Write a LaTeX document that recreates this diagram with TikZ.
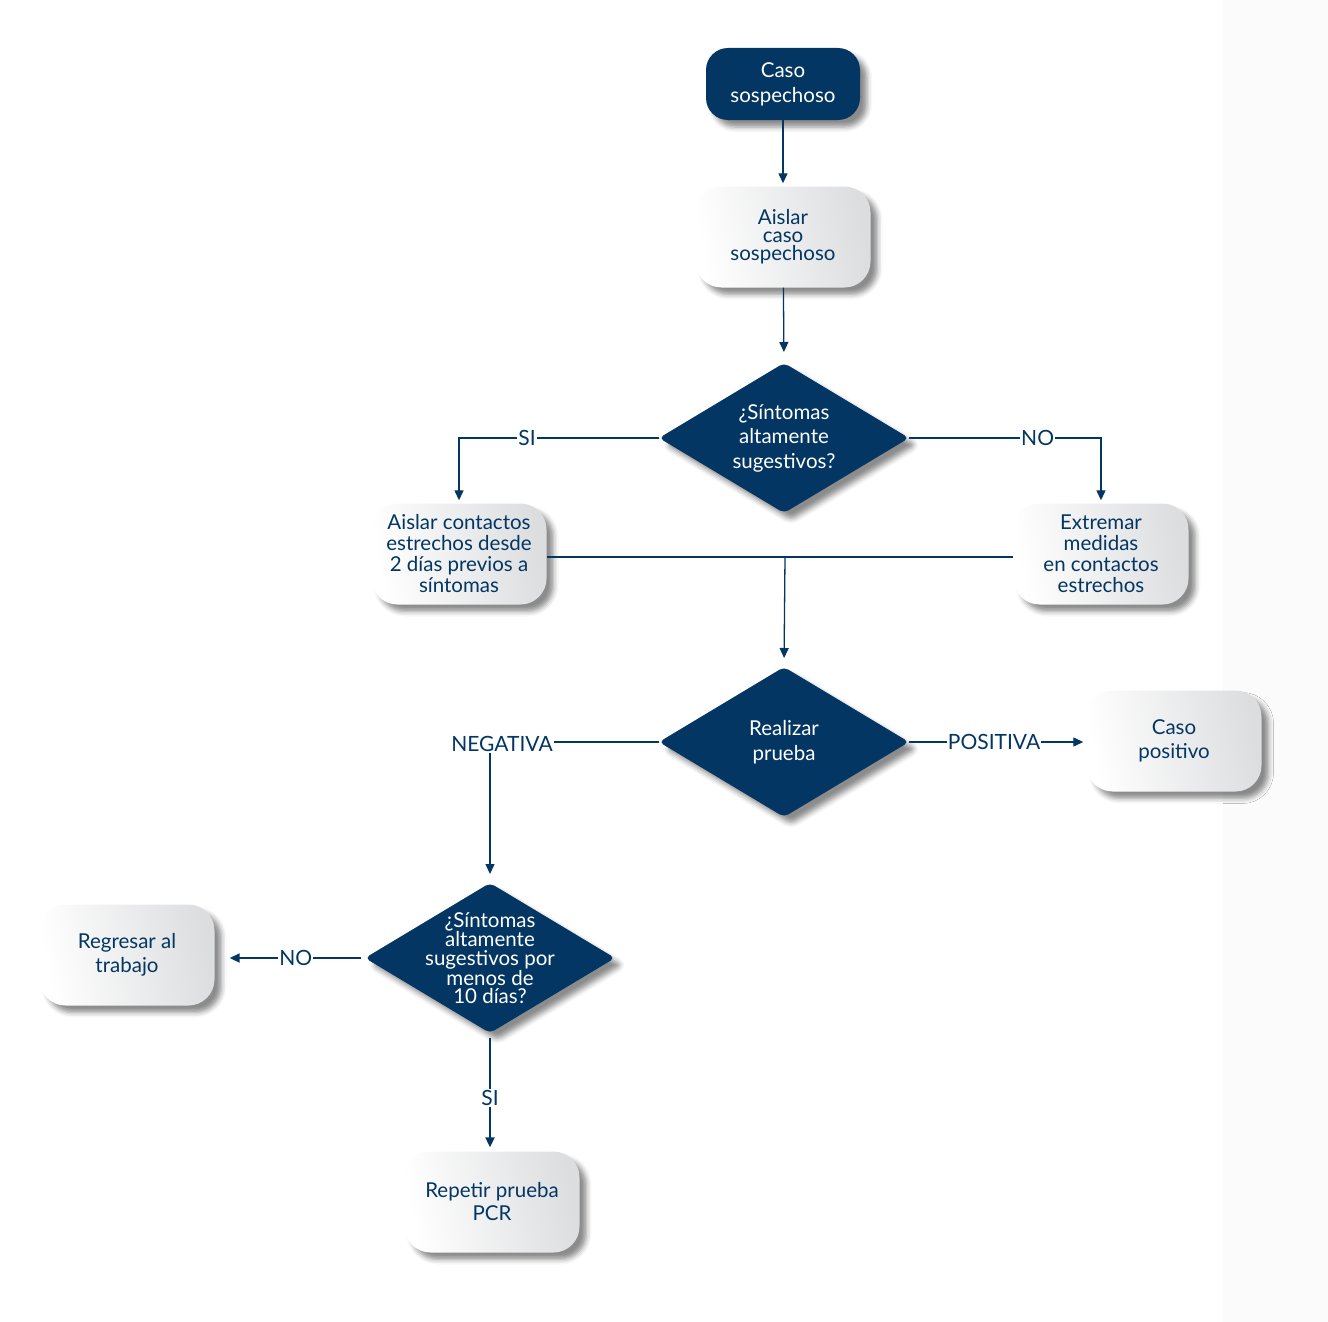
\documentclass[tikz,border=0pt]{standalone}
\usepackage{fontspec}
\setmainfont{Lato}
\usetikzlibrary{shapes.geometric,shadows.blur,arrows.meta}
\definecolor{navy}{HTML}{033662}
\definecolor{boxgray}{HTML}{DCDDDF}
\begin{document}
\begin{tikzpicture}[x=1pt,y=-1pt,
  shad/.style={blur shadow={shadow xshift=7pt, shadow yshift=-7pt, shadow blur radius=5pt, shadow opacity=45}},
  darkbox/.style={shad, rounded corners=22pt, fill=navy, text=white, minimum width=154pt, minimum height=72pt, inner sep=0pt, align=center},
  lightbox/.style={shad, rounded corners=26pt, left color=white, right color=boxgray, shading angle=100, minimum width=175pt, minimum height=101pt, inner sep=0pt, text=navy, align=center},
  dia/.style={shad, diamond, rounded corners=5pt, fill=navy, minimum width=250pt, minimum height=150pt, inner sep=0pt, outer sep=0pt},
  dtext/.style={text=white, align=center},
  fs/.style 2 args={font=\fontsize{#1}{#2}\selectfont},
  conn/.style={draw=navy, line width=1.3pt, -{Triangle[length=10pt,width=9pt]}},
  plain/.style={draw=navy, line width=1.3pt},
  lbl/.style={fill=white, text=navy, inner sep=1pt, font=\fontsize{21}{24}\selectfont}
]
\useasboundingbox (0,0) rectangle (1328,1322);
\fill[black!1.5] (1223,0) rectangle (1328,1322);

\node[darkbox, fs={20.5}{25}] (c1) at (783,84) {Caso\\sospechoso};
\node[lightbox, fs={20.5}{18}] (c2) at (783,237) {Aislar\\caso\\sospechoso};
\node[dia, label={[dtext, fs={20.5}{24.5}]center:{¿Síntomas\\altamente\\sugestivos?}}] (d1) at (784,438) {};
\node[lightbox, fs={20.5}{21}] (b4) at (459,554) {Aislar contactos\\estrechos desde\\2 días previos a\\síntomas};
\node[lightbox, fs={20.5}{21}] (b5) at (1101,554) {Extremar\\medidas\\en contactos\\estrechos};
\node[dia, label={[dtext, fs={20.5}{25}]center:{Realizar\\prueba}}] (d2) at (784,742) {};
\node[lightbox, fs={20.5}{24}] (cp) at (1174,741) {Caso\\positivo};
\node[dia, label={[dtext, fs={20.5}{18.5}]center:{¿Síntomas\\altamente\\sugestivos por\\menos de\\10 días?}}] (d3) at (490,958) {};
\node[lightbox, fs={20.5}{24}] (rt) at (127,955) {Regresar al\\trabajo};
\node[lightbox, fs={20.5}{23}] (rp) at (492,1202) {Repetir prueba\\PCR};

\coordinate (j) at (785,557);

\draw[conn, shorten >=3pt] (c1) -- (c2);
\draw[conn, shorten >=11pt] (c2) -- (d1.north);
\draw[conn, shorten >=3pt] (d1.west) -| node[lbl, pos=0.33] {SI} (b4.north);
\draw[conn, shorten >=3pt] (d1.east) -| node[lbl, pos=0.335] {NO} (b5.north);
\draw[plain] (b4.east |- j) -- (b5.west |- j);
\draw[conn, shorten >=9pt] (j) -- (d2.north);
\draw[conn, shorten >=9pt] (d2.west) -| node[lbl, pos=0.5, xshift=12pt, yshift=-2pt] {NEGATIVA} (d3.north);
\draw[conn, shorten >=3pt] (d2.east) -- node[lbl, pos=0.48] {POSITIVA} (d2.east -| cp.west);
\draw[conn, line width=2pt, shorten <=4pt, shorten >=15pt] (d3.west) -- node[lbl, pos=0.46] {NO} (d3.west -| rt.east);
\draw[conn, line width=2pt, shorten <=5pt, shorten >=4pt] (d3.south) -- node[lbl, pos=0.55] {SI} (d3.south |- rp.north);
\end{tikzpicture}
\end{document}
